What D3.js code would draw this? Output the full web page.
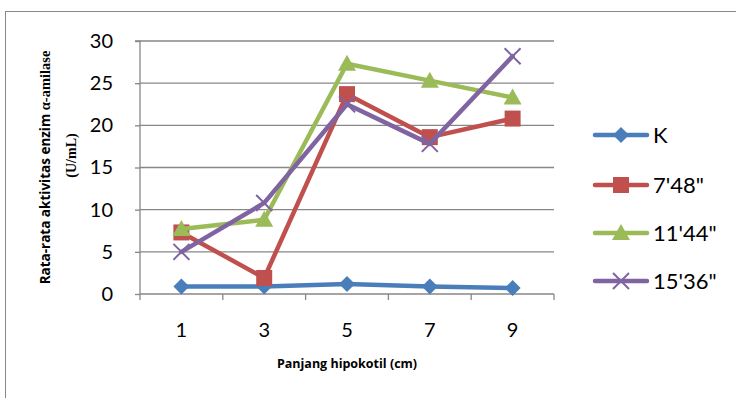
<!DOCTYPE html>
<html>
<head>
<meta charset="utf-8">
<script src="https://cdn.jsdelivr.net/npm/d3@7"></script>
<style>
  html, body { margin: 0; padding: 0; background: #fff; }
  svg { display: block; }
</style>
</head>
<body>
<svg id="chart" width="736" height="398"></svg>
<script>
// Hypocotyl length categories (cm)
const categories = ["1", "3", "5", "7", "9"];
// Series names (treatment durations)
const seriesNames = ["K", "7'48\"", "11'44\"", "15'36\""];
// Mean alpha-amylase activity (U/mL) per series
const valuesK     = [0.9, 0.9, 1.2, 0.9, 0.7];
const values748   = [7.3, 1.9, 23.7, 18.6, 20.8];
const values1144  = [7.7, 8.8, 27.3, 25.3, 23.3];
const values1536  = [5.0, 10.8, 22.5, 17.8, 28.2];
const yTicks = [0, 5, 10, 15, 20, 25, 30];

const seriesValues = [valuesK, values748, values1144, values1536];
const colors = ["#4a7ebb", "#c0504d", "#9bbb59", "#8064a2"];
const markers = ["diamond", "square", "triangle", "cross"];

const svg = d3.select("#chart");
const FONT = "Lato, 'Open Sans', sans-serif";

// outer frame
svg.append("rect")
  .attr("x", 5.5).attr("y", 11.5)
  .attr("width", 760).attr("height", 420)
  .attr("fill", "none").attr("stroke", "#898989").attr("stroke-width", 1);

const plot = { left: 140, right: 554, top: 41, bottom: 294 };

const x = d3.scaleBand().domain(categories)
  .range([plot.left, plot.right]).paddingInner(0).paddingOuter(0);
const y = d3.scaleLinear().domain([0, 30]).range([plot.bottom, plot.top]);
const cx = c => x(c) + x.bandwidth() / 2;

// horizontal gridlines
svg.append("g").selectAll("line").data(yTicks.filter(t => t > 0)).join("line")
  .attr("x1", plot.left).attr("x2", plot.right)
  .attr("y1", d => y(d)).attr("y2", d => y(d))
  .attr("stroke", "#878787").attr("stroke-width", 1.3);

// y axis
const yAxis = d3.axisLeft(y).tickValues(yTicks).tickSize(5).tickPadding(22);
const gy = svg.append("g").attr("transform", `translate(${plot.left},0)`).call(yAxis);
gy.select(".domain").attr("stroke", "#878787").attr("stroke-width", 1.3).attr("d", `M-5,${plot.top}H0V${plot.bottom}`);
gy.selectAll(".tick line").attr("stroke", "#878787").attr("stroke-width", 1.3);
gy.selectAll(".tick text").attr("font-family", FONT).attr("font-size", 20).attr("fill", "#000");

// x axis with tick marks at category boundaries
const gx = svg.append("g").attr("transform", `translate(0,${plot.bottom})`);
gx.append("line").attr("x1", plot.left).attr("x2", plot.right)
  .attr("y1", 0).attr("y2", 0).attr("stroke", "#878787").attr("stroke-width", 1.3);
const bounds = categories.map(c => x(c)).concat([x(categories[categories.length - 1]) + x.bandwidth()]);
gx.selectAll("line.tk").data(bounds).join("line").attr("class", "tk")
  .attr("x1", d => d).attr("x2", d => d).attr("y1", 0).attr("y2", 6)
  .attr("stroke", "#878787").attr("stroke-width", 1.3);
gx.selectAll("text").data(categories).join("text")
  .attr("x", d => cx(d)).attr("y", 43)
  .attr("text-anchor", "middle")
  .attr("font-family", FONT).attr("font-size", 20).attr("fill", "#000")
  .text(d => d);

// axis titles
svg.append("text")
  .attr("x", 347).attr("y", 368).attr("text-anchor", "middle")
  .attr("font-family", "'Open Sans', Lato, sans-serif").attr("font-weight", "bold")
  .attr("font-size", 12.5).attr("fill", "#000")
  .text("Panjang hipokotil (cm)");

const yt = svg.append("text")
  .attr("transform", `translate(50,${(plot.top + plot.bottom) / 2}) rotate(-90)`)
  .attr("text-anchor", "middle")
  .attr("font-weight", "bold").attr("font-size", 13.5).attr("fill", "#000");
yt.append("tspan").attr("font-family", "'Open Sans', Lato, sans-serif").text("Rata-rata aktivitas enzim ");
yt.append("tspan").attr("font-family", "'Liberation Serif', 'DejaVu Serif', serif").attr("font-size", 14.5).text("α-amilase");
svg.append("text")
  .attr("transform", `translate(76,${(plot.top + plot.bottom) / 2 - 12}) rotate(-90)`)
  .attr("text-anchor", "middle")
  .attr("font-family", "'Liberation Serif', 'DejaVu Serif', serif")
  .attr("font-weight", "bold").attr("font-size", 14).attr("fill", "#000")
  .text("(U/mL)");

// marker drawing
function drawMarker(g, type, color, px, py) {
  if (type === "diamond") {
    g.append("path").attr("d", `M${px},${py - 8}L${px + 8},${py}L${px},${py + 8}L${px - 8},${py}Z`).attr("fill", color);
  } else if (type === "square") {
    g.append("rect").attr("x", px - 8).attr("y", py - 8).attr("width", 16).attr("height", 16).attr("fill", color);
  } else if (type === "triangle") {
    g.append("path").attr("d", `M${px},${py - 9}L${px + 9},${py + 7}L${px - 9},${py + 7}Z`).attr("fill", color);
  } else {
    g.append("path").attr("d", `M${px - 8},${py - 8}L${px + 8},${py + 8}M${px + 8},${py - 8}L${px - 8},${py + 8}`)
      .attr("stroke", color).attr("stroke-width", 2).attr("fill", "none");
  }
}

const line = d3.line().x((d, i) => cx(categories[i])).y(d => y(d));

seriesValues.forEach((vals, si) => {
  const g = svg.append("g");
  g.append("path").datum(vals).attr("d", line)
    .attr("fill", "none").attr("stroke", colors[si]).attr("stroke-width", 4.5)
    .attr("stroke-linejoin", "round").attr("stroke-linecap", "round");
  vals.forEach((v, i) => drawMarker(g, markers[si], colors[si], cx(categories[i]), y(v)));
});

// legend
const legendY = [135, 185, 233, 281];
seriesNames.forEach((name, si) => {
  const g = svg.append("g");
  const ly = legendY[si];
  g.append("line").attr("x1", 595).attr("x2", 647).attr("y1", ly).attr("y2", ly)
    .attr("stroke", colors[si]).attr("stroke-width", 4.5).attr("stroke-linecap", "round");
  drawMarker(g, markers[si], colors[si], 621, ly);
  g.append("text").attr("x", 653).attr("y", ly + 8)
    .attr("font-family", FONT).attr("font-size", 22).attr("fill", "#000")
    .text(name);
});
</script>
</body>
</html>
